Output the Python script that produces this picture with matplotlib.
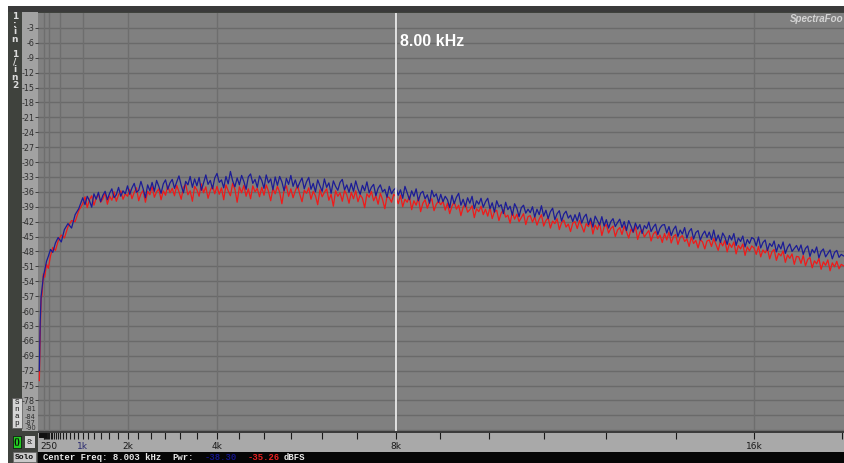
import numpy as np
import matplotlib
matplotlib.use("Agg")
import matplotlib.pyplot as plt
from matplotlib.patches import Rectangle

# --- spectrum data (kHz / dBFS) ---
freq_low = [0.03, 0.05, 0.07, 0.09, 0.12, 0.15, 0.19, 0.23, 0.28, 0.33,
            0.39, 0.45, 0.52, 0.59, 0.67, 0.75, 0.83, 0.91]
freq_bins = np.round(np.arange(1.0, 18.025, 0.05), 3)
freq = np.concatenate([freq_low, freq_bins])

ch1_low = [-72.0, -62.0, -57.0, -55.5, -53.0, -51.8, -50.0, -49.0, -47.6, -48.2,
           -46.3, -45.2, -46.1, -43.6, -42.4, -43.3, -40.6, -39.4]
ch1 = [
    -37.2, -38.6, -36.9, -37.8, -39.1, -36.4, -37.5, -36.1, -38.0, -36.7, -35.9, -37.6, -36.3, -35.4, -37.2, -36.6, -35.1, -36.9, -35.8, -36.4,
    -34.8, -36.5, -35.2, -34.3, -36.1, -35.7, -33.9, -35.4, -37.2, -34.6, -35.8, -34.1, -35.9, -33.7, -34.9, -36.3, -34.4, -33.6, -35.5, -34.2,
    -33.5, -35.3, -34.0, -32.8, -34.7, -36.2, -33.9, -34.6, -32.9, -35.1, -33.4, -34.8, -33.1, -35.7, -34.2, -32.6, -34.5, -33.7, -35.4, -33.2,
    -32.3, -34.1, -33.6, -35.2, -32.9, -34.4, -31.9, -33.8, -35.0, -33.2, -34.6, -32.7, -33.9, -35.5, -33.0, -32.4, -34.3, -33.5, -35.1, -32.8,
    -33.7, -35.3, -32.6, -34.2, -33.4, -35.6, -33.0, -34.7, -32.9, -34.0, -35.8, -33.3, -34.5, -32.7, -34.9, -33.6, -35.2, -34.1, -33.2, -35.4,
    -34.0, -33.1, -35.5, -34.3, -36.0, -33.6, -34.8, -35.9, -33.4, -35.1, -34.2, -36.3, -33.8, -34.9, -35.7, -34.1, -33.5, -35.6, -34.6, -36.1,
    -34.3, -35.9, -33.8, -35.4, -36.5, -34.7, -35.8, -34.0, -36.2, -35.1, -34.5, -36.8, -35.3, -34.6, -36.0, -35.5, -37.1, -34.9, -36.4, -35.6,
    -35.2, -36.7, -35.6, -37.3, -34.9, -36.2, -37.6, -35.8, -36.9, -35.4, -37.8, -36.3, -35.9, -37.4, -36.6, -38.3, -35.7, -37.0, -36.4, -38.1,
    -36.5, -38.0, -36.9, -37.6, -39.2, -36.7, -38.4, -37.1, -36.3, -38.7, -37.5, -39.0, -37.2, -38.3, -36.9, -39.4, -37.8, -38.5, -37.3, -39.1,
    -38.0, -37.3, -39.4, -38.2, -40.1, -37.8, -39.0, -38.6, -40.4, -38.1, -39.6, -38.9, -40.7, -38.4, -39.3, -41.0, -39.2, -38.7, -40.3, -39.5,
    -40.2, -39.0, -41.1, -39.5, -40.6, -38.8, -40.9, -39.7, -41.4, -40.0, -39.3, -41.6, -40.4, -39.8, -41.9, -40.5, -39.9, -41.3, -40.7, -42.0,
    -40.6, -41.9, -40.2, -42.3, -41.1, -40.5, -42.6, -41.3, -43.1, -40.9, -41.8, -42.7, -41.0, -42.9, -41.6, -43.3, -42.0, -41.4, -43.0, -42.2,
    -41.5, -43.2, -42.0, -43.8, -41.8, -42.9, -44.1, -42.3, -43.5, -42.6, -44.4, -42.8, -43.4, -42.1, -44.0, -43.1, -42.5, -44.6, -43.3, -42.7,
    -42.6, -44.3, -43.0, -44.8, -43.6, -42.9, -45.0, -43.7, -44.5, -43.2, -45.3, -44.0, -43.4, -45.5, -44.2, -43.8, -45.7, -44.6, -43.9, -45.2,
    -44.1, -45.6, -43.7, -45.9, -44.7, -46.2, -44.3, -45.1, -46.6, -44.8, -45.7, -44.4, -46.8, -45.3, -46.0, -44.9, -47.1, -45.6, -46.4, -45.2,
    -45.5, -46.9, -45.1, -47.3, -46.2, -45.7, -47.8, -46.4, -47.0, -45.9, -48.1, -46.6, -47.5, -46.1, -48.4, -47.2, -46.5, -48.0, -47.4, -46.8,
    -47.9, -46.7, -48.6, -47.4, -46.9, -49.0, -47.6, -48.3, -47.1, -49.3, -48.0, -47.5, -49.1, -48.4, -47.7, -49.5, -48.2, -47.8, -49.2, -48.6,
    -48.9,
]

ch2_low = [-74.0, -64.5, -57.5, -56.8, -52.5, -53.2, -50.6, -51.4, -48.9, -47.2,
           -47.8, -45.9, -44.7, -45.3, -43.0, -41.8, -42.0, -39.8]
ch2 = [
    -38.4, -37.0, -39.2, -37.6, -36.8, -38.7, -37.3, -36.5, -38.1, -37.4, -36.2, -38.5, -36.9, -37.7, -36.0, -37.9, -36.6, -35.8, -37.5, -36.4,
    -36.9, -35.5, -37.4, -36.1, -35.2, -37.8, -36.4, -35.7, -38.1, -35.9, -36.6, -34.9, -37.1, -36.0, -35.4, -37.6, -35.8, -36.7, -34.8, -36.2,
    -35.3, -36.8, -34.7, -36.0, -37.5, -35.1, -34.5, -36.6, -35.8, -37.9, -34.9, -35.6, -36.9, -34.4, -36.2, -35.0, -37.3, -35.7, -34.8, -36.4,
    -34.9, -36.5, -35.2, -37.6, -34.6, -35.8, -36.8, -34.3, -35.5, -38.1, -35.0, -36.2, -34.7, -36.9, -35.4, -37.4, -34.8, -36.0, -35.3, -37.0,
    -35.1, -36.7, -34.6, -35.9, -37.8, -35.3, -36.4, -34.9, -36.1, -38.4, -35.6, -34.8, -36.9, -35.4, -37.2, -35.8, -34.7, -36.5, -38.0, -35.7,
    -36.3, -35.2, -37.5, -35.9, -36.8, -38.6, -35.6, -37.0, -36.1, -35.4, -37.7, -36.5, -38.9, -35.8, -36.9, -36.2, -37.9, -35.7, -36.6, -38.3,
    -36.1, -37.4, -35.8, -38.0, -36.6, -37.3, -39.2, -36.4, -37.1, -35.9, -37.8, -36.8, -38.5, -36.3, -37.6, -39.4, -36.9, -37.2, -38.1, -36.5,
    -37.0, -38.4, -36.7, -39.0, -37.5, -38.1, -36.9, -39.6, -37.8, -38.7, -37.2, -40.0, -38.3, -37.6, -39.3, -38.0, -37.4, -39.8, -38.5, -37.9,
    -38.6, -37.9, -39.7, -38.3, -40.4, -38.9, -38.0, -39.5, -38.7, -40.8, -39.1, -38.4, -40.1, -39.6, -38.8, -41.2, -39.4, -40.0, -38.9, -40.6,
    -39.5, -40.9, -39.2, -41.4, -40.0, -39.7, -41.8, -40.3, -39.6, -41.1, -40.7, -42.3, -40.1, -41.5, -40.5, -42.0, -41.2, -40.4, -42.6, -41.0,
    -40.8, -42.1, -41.0, -42.7, -41.5, -40.6, -42.9, -41.8, -41.2, -43.3, -41.9, -42.4, -41.4, -43.6, -42.2, -41.7, -43.1, -42.5, -44.0, -42.3,
    -42.0, -43.4, -41.8, -42.9, -44.1, -42.4, -43.0, -41.9, -44.5, -42.7, -43.6, -42.2, -44.8, -43.1, -42.6, -44.3, -43.4, -42.9, -45.0, -43.7,
    -43.2, -44.6, -42.9, -44.0, -45.3, -43.5, -44.2, -43.0, -45.6, -44.1, -43.6, -45.1, -44.4, -43.8, -45.9, -44.5, -44.0, -45.4, -44.7, -46.2,
    -44.4, -45.7, -44.1, -46.3, -45.0, -44.6, -46.6, -45.2, -44.8, -46.0, -45.5, -47.0, -45.1, -46.4, -45.8, -47.3, -45.6, -46.1, -47.5, -45.9,
    -45.7, -47.0, -45.4, -46.6, -47.8, -46.0, -46.9, -45.8, -48.1, -46.4, -47.2, -46.1, -48.5, -46.8, -47.5, -46.5, -48.8, -47.1, -47.9, -46.9,
    -47.3, -48.6, -47.0, -49.1, -47.7, -48.3, -47.4, -49.5, -48.1, -47.6, -49.8, -48.4, -48.9, -47.9, -50.2, -48.7, -49.4, -48.5, -50.6, -49.0,
    -49.1, -50.4, -48.8, -50.9, -49.6, -49.2, -51.3, -49.9, -50.5, -49.4, -51.6, -50.1, -50.8, -49.7, -51.9, -50.3, -51.1, -50.0, -51.5, -50.6,
    -50.9,
]

db_ticks = list(range(-3, -79, -3))
grid_khz = [0.125, 0.25, 0.5, 1, 2, 4, 8, 16]
label_khz = [0.25, 1, 2, 4, 8, 16]
label_txt = ["250", "1k", "2k", "4k", "8k", "16k"]
marker_khz = 8.0

W, H = 844, 463
fig = plt.figure(figsize=(W / 100, H / 100), dpi=100)
fig.patch.set_facecolor("white")


def box(x, y, w, h, color, z=-10, **kw):
    # rectangle in screenshot pixel coords (origin top-left)
    fig.patches.append(Rectangle((x / W, 1 - (y + h) / H), w / W, h / H,
                                 transform=fig.transFigure, facecolor=color,
                                 edgecolor=kw.pop("ec", "none"), lw=kw.pop("lw", 0),
                                 zorder=z, **kw))


def ftext(x, y, s, **kw):
    fig.text(x / W, 1 - y / H, s, **kw)


# window chrome
box(8, 6, 836, 457, "#3f423d")
box(8, 6, 836, 6, "#3a3a3a")
box(22, 12, 16, 419, "#a2a2a2")
box(38, 431, 806, 21, "#a9a9a9")
box(38, 452, 806, 11, "#050505")
box(38, 431, 806, 1.5, "#3c3c3c", z=5)
box(39, 433, 8, 5, "#111111", z=5)

# buttons on the left
box(12, 398, 10, 30, "#d6d6d6", ec="#555555", lw=0.5)
ftext(17, 413, "S\nn\na\np", fontsize=5.5, ha="center", va="center",
      family="Liberation Mono", linespacing=0.95, color="#111111")
box(13, 436, 8, 12, "#22cc22", ec="#0a0a0a", lw=0.5)
ftext(17, 442, "()", fontsize=5.5, ha="center", va="center", color="#0a0a0a",
      weight="bold")
box(25, 436, 10, 12, "#cfcfcf")
ftext(30, 442, "8:", fontsize=5, ha="center", va="center", color="#222222")
box(13, 452, 23, 10, "#c9c9c9", ec="#666666", lw=0.5)
ftext(24.5, 457.5, "Solo", fontsize=5.8, ha="center", va="center",
      family="Liberation Mono", weight="bold", color="#111111")

ftext(15, 28, "1\n:\ni\nn", fontsize=6.5, ha="center", va="center",
      weight="bold", color="#dcdcdc", linespacing=0.85)
ftext(15, 70, "1\n/\ni\nn\n2", fontsize=6.5, ha="center", va="center",
      weight="bold", color="#dcdcdc", linespacing=0.85)

# main plot
ax = fig.add_axes([38 / W, 1 - 431 / H, (W - 38) / W, (431 - 13) / H])
ax.set_facecolor("#808080")
ax.set_xlim(0, (W - 38) / 44.75)
ax.set_ylim(-(431 - 13) / 4.967, 0)
for s in ax.spines.values():
    s.set_visible(False)

for d in db_ticks + [-81, -84]:
    ax.axhline(d, color="#6a6a6a", lw=1.0, zorder=1)
for f in grid_khz:
    ax.axvline(f, color="#6e6e6e", lw=1.0, zorder=1)

ax.plot(freq, ch2_low + ch2, color="#f01a1a", lw=0.9, zorder=3)
ax.plot(freq, ch1_low + ch1, color="#1c1c96", lw=0.9, zorder=4)

ax.axvline(marker_khz, color="white", lw=1.1, zorder=5)
ax.text(marker_khz + 0.09, -5.8, "%.2f kHz" % marker_khz, color="white",
        fontsize=11.5, weight="bold", family="Liberation Sans", va="center")

ax.set_yticks(db_ticks)
ax.set_yticklabels([str(d) for d in db_ticks])
ax.tick_params(axis="y", direction="out", length=2, width=0.6, pad=0.5,
               colors="#2e2e2e", labelsize=5.8)
# squeezed labels at the bottom of the dB column
for lab, yy in [("-81", 409), ("-84", 417), ("-87", 423), ("-90", 428)]:
    ftext(36, yy, lab, fontsize=4.8, ha="right", va="center", color="#2e2e2e")

minor = [0.125 * 2 ** (k / 6) for k in range(0, 44)]
ax.set_xticks(minor, minor=True)
ax.set_xticks(label_khz)
ax.set_xticklabels(label_txt)
ax.tick_params(axis="x", which="both", direction="out", length=6, width=0.8,
               colors="#1a1a1a", pad=2, labelsize=6.5)
ax.get_xticklabels()[1].set_color("#2a2a70")

ftext(843, 19, "SpectraFoo", fontsize=7, style="italic", weight="bold",
      color="#d4d4d4", va="center", ha="right", family="Liberation Sans")

# status line
mono = dict(family="Liberation Mono", weight="bold", fontsize=6.4, va="center")
ftext(43, 458, "Center Freq: 8.003 kHz", color="#e8e8e8", **mono)
ftext(172, 458, "Pwr:", color="#e8e8e8", **mono)
ftext(205, 458, "-38.30", color="#14148a", **mono)
ftext(248, 458, "-35.26", color="#e82020", **mono)
ftext(284, 458, "dBFS", color="#e8e8e8", **mono)

fig.savefig("out.png", dpi=100, facecolor=fig.get_facecolor())
